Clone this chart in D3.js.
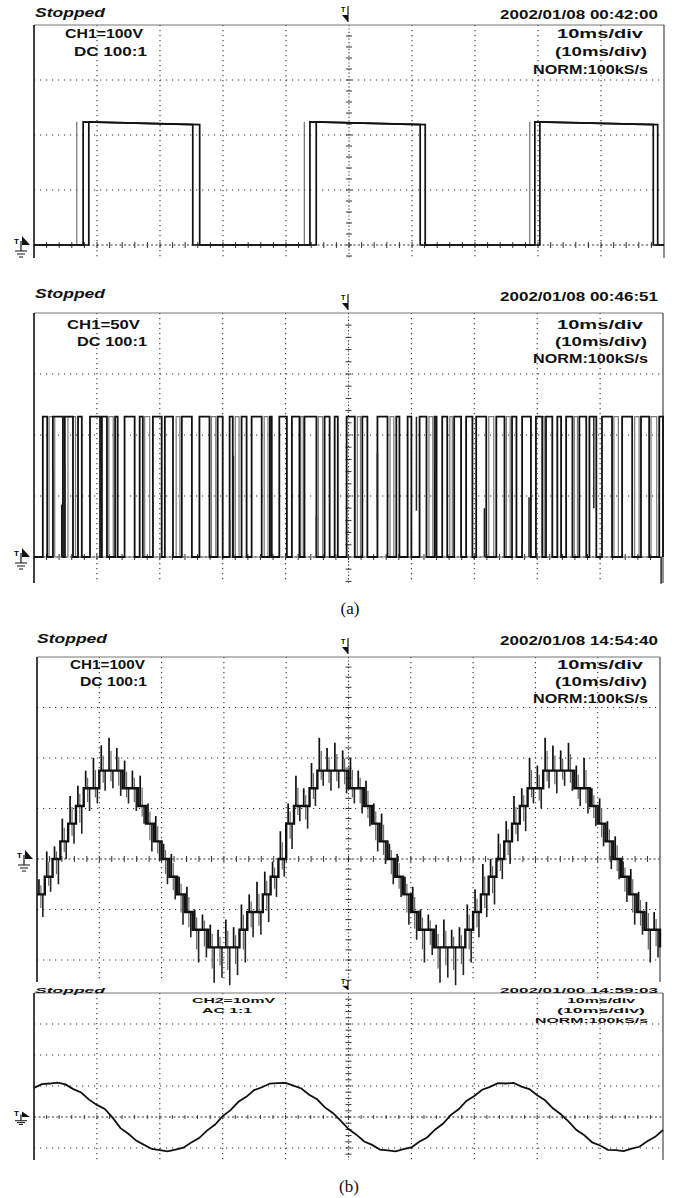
<!DOCTYPE html>
<html>
<head>
<meta charset="utf-8">
<script src="https://cdn.jsdelivr.net/npm/d3@7"></script>
<style>body{margin:0;background:#fff}</style>
</head>
<body>
<div id="chart"></div>
<script>
const W = 678, H = 1198;

// ---- panel 1 : CH1 100V/div, square wave (ms, V)
const p1PulsesA = [[7.8, 26.3], [43.8, 62.1], [79.5, 99.0]];
const p1PulsesB = [[8.7, 25.2], [44.8, 61.3], [80.3, 98.3]];
const p1Ghost = [6.8, 42.9, 78.7];
const p1HighStart = 224, p1HighEnd = 219;

// ---- panel 2 : CH1 50V/div, PWM pulses (ms)
const p2Pulses = [
  [1.4, 2.1], [3.0, 4.6], [4.9, 6.2], [7.0, 7.6], [8.9, 10.5], [10.8, 11.6], [12.9, 13.3],
  [14.4, 16.0], [16.8, 17.3], [18.9, 20.3], [20.8, 22.1], [23.5, 25.1], [26.3, 27.9],
  [29.2, 30.0], [31.1, 31.6], [33.0, 33.8], [34.6, 36.2], [37.5, 37.8], [39.0, 40.2],
  [41.0, 42.2], [43.0, 44.9], [46.2, 47.0], [47.8, 48.3], [49.7, 51.0], [52.2, 53.0],
  [54.6, 56.2], [57.6, 58.1], [59.4, 60.0], [61.3, 62.4], [63.7, 64.0], [64.9, 65.7],
  [66.8, 67.9], [68.7, 69.7], [70.3, 71.9], [73.5, 74.8], [76.0, 76.7], [77.6, 79.0],
  [79.8, 80.8], [81.4, 82.4], [83.2, 83.8], [84.6, 85.6], [86.7, 87.8], [88.3, 89.4],
  [90.3, 91.9], [93.5, 95.1], [96.5, 97.8], [99.4, 100]
];
const p2Ghost = [
  [2.4, 3.3], [5.4, 6.6], [11.9, 12.6], [17.6, 18.4], [22.6, 23.2], [28.2, 28.9], [32.0, 32.6],
  [36.6, 37.2], [42.4, 42.8], [45.2, 45.9], [51.4, 51.9], [56.6, 57.2], [62.8, 63.4], [66.1, 66.5],
  [72.3, 73.1], [75.1, 75.7], [80.9, 81.2], [85.9, 86.4], [92.2, 92.9], [95.5, 96.2], [98.1, 99.0]
];
// partial edges: [ms, V low, V high]
const p2Partial = [
  [3.0, 0, 71], [4.4, 0, 43], [4.9, 0, 75], [7.0, 0, 49], [18.9, 0, 46], [31.1, 0, 30],
  [31.7, 0, 83], [44.9, 0, 33], [54.6, 30, 85], [60.8, 38, 115], [63.7, 71, 115],
  [71.6, 0, 40], [77.6, 0, 11], [78.7, 0, 49], [89.0, 40, 115], [99.7, -22, 0]
];
const p2High = 115;

// ---- panel 3 : CH1 100V/div, stepped sine, one sample every 1.25 ms
const p3Level = [
  -70, -35, 0, 35, 70, 105, 140, 140, 175, 175,
  175, 140, 140, 105, 70, 35, 0, -35, -70, -105,
  -140, -140, -175, -175, -175, -175, -140, -105, -105, -70,
  -35, 0, 70, 105, 105, 140, 175, 175, 175, 175,
  140, 140, 105, 70, 35, 0, -35, -70, -105, -140,
  -140, -175, -175, -175, -175, -140, -105, -70, -35, 0,
  35, 70, 105, 140, 140, 175, 175, 175, 175, 140,
  140, 105, 70, 35, 0, -35, -70, -105, -140, -140,
  -175
];
const p3Up = [
  30, 50, 25, 45, 55, 40, 35, 60, 50, 65,
  45, 55, 35, 60, 40, 50, 30, 45, 35, 50,
  40, 30, 45, 35, 55, 40, 50, 35, 60, 45,
  30, 55, 40, 60, 35, 50, 65, 45, 55, 40,
  60, 35, 50, 40, 55, 30, 45, 35, 50, 40,
  30, 45, 55, 35, 40, 50, 45, 60, 35, 50,
  40, 55, 35, 60, 45, 65, 50, 40, 55, 45,
  60, 35, 50, 40, 45, 30, 50, 40, 55, 35,
  45
];
const p3Dn = [
  45, 30, 50, 35, 40, 55, 45, 30, 40, 35,
  50, 30, 45, 35, 55, 40, 50, 45, 60, 50,
  65, 55, 70, 60, 75, 55, 65, 50, 45, 55,
  40, 35, 50, 30, 45, 35, 30, 40, 35, 45,
  30, 50, 40, 55, 45, 50, 40, 60, 55, 65,
  50, 70, 60, 75, 55, 65, 50, 45, 55, 40,
  45, 35, 50, 30, 40, 35, 45, 30, 40, 35,
  50, 40, 45, 55, 40, 50, 60, 45, 65, 55,
  60
];

// ---- panel 4 : CH2 10mV/div, one sample every 1.25 ms
const p4Values = [
  9.4, 10.6, 10.8, 11.1, 10.5, 9.0, 7.9, 5.6, 3.9, 2.6,
  -0.2, -3.6, -5.4, -7.6, -9.0, -10.3, -10.7, -11.1, -10.5, -9.9,
  -8.2, -6.8, -4.4, -2.5, 0.3, 2.2, 4.9, 6.5, 8.7, 9.6,
  10.8, 10.9, 11.0, 10.1, 9.2, 7.2, 5.7, 3.1, 1.3, -1.2,
  -3.9, -5.7, -7.9, -9.0, -10.5, -10.8, -11.1, -10.4, -9.8, -8.0,
  -6.6, -4.1, -2.2, 0.6, 2.5, 5.2, 6.8, 8.8, 9.7, 10.9,
  10.8, 11.0, 9.8, 9.0, 7.0, 5.4, 2.8, 0.9, -1.5, -4.2,
  -5.9, -8.2, -9.2, -10.6, -10.7, -11.0, -10.2, -9.6, -7.8, -6.4,
  -4.2
];
const sampleStep = 1.25;

// ---- labels
const stoppedLabel = "Stopped";
const dates = ["2002/01/08  00:42:00", "2002/01/08  00:46:51", "2002/01/08  14:54:40", "2002/01/00  14:59:03"];
const chLabels = [["CH1=100V", "DC  100:1"], ["CH1=50V", "DC  100:1"], ["CH1=100V", "DC  100:1"], ["CH2=10mV", "AC  1:1"]];
const timeLabels = ["10ms/div", "(10ms/div)", "NORM:100kS/s"];

const svg = d3.select("#chart").append("svg")
  .attr("width", W).attr("height", H)
  .style("background", "#fff");

const panels = [
  {left: 34, right: 664, top: 25, bottom: 258, ground: 245, vdiv: 100, sy: 1,
   stop: [35, 17], date: 19, ch: [[65, 38, 78], [74, 56, 73]], tb: [38, 56, 74]},
  {left: 34, right: 663, top: 313, bottom: 583, ground: 557, vdiv: 50, sy: 1,
   stop: [35, 298], date: 301, ch: [[67, 329, 73], [77, 346, 70]], tb: [329, 346, 363]},
  {left: 37, right: 660, top: 657, bottom: 982, ground: 859, vdiv: 100, sy: 1,
   stop: [37, 643], date: 645, ch: [[70, 669, 75], [80, 686, 67]], tb: [669, 686, 703]},
  {left: 34, right: 663, top: 993, bottom: 1160, ground: 1117, vdiv: 10, sy: 0.62,
   stop: [35, 993], date: 993, ch: [[192, 1003, 83], [202, 1013, 50]], tb: [1003, 1013, 1023]}
];

panels.forEach(p => {
  p.x = d3.scaleLinear().domain([0, 100]).range([p.left, p.right]);
  p.y = d3.scaleLinear().domain([0, 4 * p.vdiv]).range([p.ground, p.top]);
});

function txt(str, x, y, width, opts = {}) {
  const g = svg.append("g").attr("transform", `translate(${x},${y}) scale(1,${opts.sy || 1})`);
  const t = g.append("text")
    .attr("x", 0).attr("y", 0)
    .attr("font-family", "'Liberation Sans', Arial, sans-serif")
    .attr("font-size", opts.size || 13)
    .attr("font-weight", opts.weight || "bold")
    .attr("font-style", opts.italic ? "italic" : "normal")
    .attr("fill", "#111")
    .text(str);
  if (width) t.attr("textLength", width).attr("lengthAdjust", "spacingAndGlyphs");
  return t;
}

function drawGrid(p) {
  const {x, y} = p;
  const g = svg.append("g");
  // vertical division lines
  d3.range(10, 100, 10).forEach(t => {
    if (t === 50) return;
    g.append("line")
      .attr("x1", x(t)).attr("x2", x(t)).attr("y1", p.top).attr("y2", p.bottom)
      .attr("stroke", "#333").attr("stroke-width", 1.1).attr("stroke-dasharray", "1.2,3.8");
  });
  // horizontal division lines
  d3.range(-6, 4).forEach(k => {
    if (k === 0) return;
    const yy = y(k * p.vdiv);
    if (yy <= p.top + 2 || yy >= p.bottom) return;
    g.append("line")
      .attr("x1", p.left).attr("x2", p.right).attr("y1", yy).attr("y2", yy)
      .attr("stroke", "#333").attr("stroke-width", 1.1).attr("stroke-dasharray", "1.2,4.8");
  });
  // centre lines with minor ticks
  g.append("line")
    .attr("x1", x(50)).attr("x2", x(50)).attr("y1", p.top).attr("y2", p.bottom)
    .attr("stroke", "#333").attr("stroke-width", 1.1).attr("stroke-dasharray", "1.2,2.2");
  g.append("line")
    .attr("x1", p.left).attr("x2", p.right).attr("y1", p.ground).attr("y2", p.ground)
    .attr("stroke", "#333").attr("stroke-width", 1.1).attr("stroke-dasharray", "2,2.5");
  const vt = d3.range(-40, 21).map(k => k * p.vdiv / 5)
    .filter(v => y(v) > p.top + 2 && y(v) < p.bottom);
  g.selectAll(null).data(vt).join("line")
    .attr("x1", x(50) - 3).attr("x2", x(50) + 3)
    .attr("y1", d => y(d)).attr("y2", d => y(d))
    .attr("stroke", "#333").attr("stroke-width", 1);
  g.selectAll(null).data(d3.range(2, 100, 2)).join("line")
    .attr("x1", d => x(d)).attr("x2", d => x(d))
    .attr("y1", p.ground - 3 * p.sy).attr("y2", p.ground + 3 * p.sy)
    .attr("stroke", "#333").attr("stroke-width", 1);
  // frame
  g.append("line").attr("x1", p.left).attr("x2", p.right).attr("y1", p.top).attr("y2", p.top)
    .attr("stroke", "#777").attr("stroke-width", 1.2);
  g.append("line").attr("x1", p.left).attr("x2", p.left).attr("y1", p.top).attr("y2", p.bottom)
    .attr("stroke", "#111").attr("stroke-width", 1.6);
  g.append("line").attr("x1", p.right).attr("x2", p.right).attr("y1", p.top).attr("y2", p.bottom)
    .attr("stroke", "#555").attr("stroke-width", 1.3);
}

function drawMarkers(p, i) {
  const g = svg.append("g");
  const s = p.sy;
  // trigger position marker on top
  const tx = 345, ty = p.top - 3;
  g.append("text").attr("x", tx - 4).attr("y", ty - 10 * s)
    .attr("font-family", "'Liberation Sans', Arial, sans-serif")
    .attr("font-size", 7).attr("font-weight", "bold").text("T");
  g.append("line").attr("x1", tx + 3).attr("x2", tx + 3).attr("y1", ty - 16 * s).attr("y2", ty)
    .attr("stroke", "#111").attr("stroke-width", 1.2);
  g.append("path")
    .attr("d", `M${tx - 3},${ty - 7 * s}L${tx + 3},${ty - 7 * s}L${tx + 3},${ty}Z`)
    .attr("fill", "#111");
  // ground / trigger level marker on the left
  const gy = p.ground, gx = p.left - 18;
  g.append("text").attr("x", gx - 2).attr("y", gy - 1)
    .attr("font-family", "'Liberation Sans', Arial, sans-serif")
    .attr("font-size", 8).attr("font-weight", "bold").text("T");
  g.append("path")
    .attr("d", `M${gx + 6},${gy - 9 * s}L${gx + 14},${gy}L${gx + 6},${gy}Z`)
    .attr("fill", "#111");
  g.append("line").attr("x1", gx + 5).attr("x2", gx + 5).attr("y1", gy - 4 * s).attr("y2", gy + 6 * s)
    .attr("stroke", "#111").attr("stroke-width", 1.2);
  [[0, 6], [3, 4], [6, 2]].forEach(([dy, hw]) => {
    g.append("line").attr("x1", gx + 5 - hw).attr("x2", gx + 5 + hw)
      .attr("y1", gy + (6 + dy) * s).attr("y2", gy + (6 + dy) * s)
      .attr("stroke", "#111").attr("stroke-width", 1);
  });
}

function drawLabels(p, i) {
  const sy = p.sy, size = 13;
  txt(stoppedLabel, p.stop[0], p.stop[1], 70, {italic: true, sy, size});
  txt(dates[i], 500, p.date, 158, {sy, size});
  chLabels[i].forEach((s, j) => txt(s, p.ch[j][0], p.ch[j][1], p.ch[j][2], {sy, size}));
  const tbx = i === 3 ? [[567, 68], [557, 88], [535, 113]] : [[557, 86], [555, 92], [533, 115]];
  timeLabels.forEach((s, j) => txt(s, tbx[j][0], p.tb[j], tbx[j][1], {sy, size}));
}

function pulsePath(pulses, lo, hiA, hiB) {
  const pts = [[0, lo]];
  pulses.forEach(([s, e]) => pts.push([s, lo], [s, hiA], [e, hiB], [e, lo]));
  pts.push([100, lo]);
  return pts;
}

panels.forEach((p, i) => {
  drawGrid(p);
  drawMarkers(p, i);
  drawLabels(p, i);
});

// ---- panel 1 traces
{
  const p = panels[0];
  const line = d3.line().x(d => p.x(d[0])).y(d => p.y(d[1]));
  svg.append("g").selectAll(null).data(p1Ghost).join("line")
    .attr("x1", d => p.x(d)).attr("x2", d => p.x(d))
    .attr("y1", p.y(0)).attr("y2", p.y(p1HighStart))
    .attr("stroke", "#555").attr("stroke-width", 1);
  [p1PulsesB, p1PulsesA].forEach(pl => {
    svg.append("path").attr("d", line(pulsePath(pl, 0, p1HighStart, p1HighEnd)))
      .attr("fill", "none").attr("stroke", "#111").attr("stroke-width", 1.7);
  });
}

// ---- panel 2 traces
{
  const p = panels[1];
  const line = d3.line().x(d => p.x(d[0])).y(d => p.y(d[1]));
  svg.append("path").attr("d", line(pulsePath(p2Ghost, 0, p2High, p2High)))
    .attr("fill", "none").attr("stroke", "#777").attr("stroke-width", 1.2);
  svg.append("path").attr("d", line(pulsePath(p2Pulses, 0, p2High, p2High)))
    .attr("fill", "none").attr("stroke", "#111").attr("stroke-width", 1.8);
  svg.append("g").selectAll(null).data(p2Partial).join("line")
    .attr("x1", d => p.x(d[0])).attr("x2", d => p.x(d[0]))
    .attr("y1", d => p.y(d[1])).attr("y2", d => p.y(d[2]))
    .attr("stroke", "#222").attr("stroke-width", 1.5);
}

// ---- panel 3 trace
{
  const p = panels[2];
  const data = p3Level.map((v, i) => ({t: i * sampleStep, v, up: p3Up[i], dn: p3Dn[i]}));
  const dx = p.x(sampleStep) - p.x(0);
  const g = svg.append("g");
  g.selectAll(".span").data(data.slice(0, -1)).join("line")
    .attr("x1", d => p.x(d.t) + dx * 0.5).attr("x2", d => p.x(d.t) + dx * 0.5)
    .attr("y1", d => p.y(d.v - d.dn * 0.6)).attr("y2", d => p.y(d.v + d.up * 0.6))
    .attr("stroke", "#666").attr("stroke-width", 1.2);
  g.selectAll(".up").data(data.slice(0, -1)).join("line")
    .attr("x1", d => p.x(d.t) + dx * 0.25).attr("x2", d => p.x(d.t) + dx * 0.25)
    .attr("y1", d => p.y(d.v)).attr("y2", d => p.y(d.v + d.up))
    .attr("stroke", "#111").attr("stroke-width", 1.7);
  g.selectAll(".dn").data(data.slice(0, -1)).join("line")
    .attr("x1", d => p.x(d.t) + dx * 0.75).attr("x2", d => p.x(d.t) + dx * 0.75)
    .attr("y1", d => p.y(d.v)).attr("y2", d => p.y(d.v - d.dn))
    .attr("stroke", "#222").attr("stroke-width", 1.6);
  const step = d3.line().x(d => p.x(d.t)).y(d => p.y(d.v)).curve(d3.curveStepAfter);
  g.append("path").attr("d", step(data))
    .attr("fill", "none").attr("stroke", "#111").attr("stroke-width", 2.4);
}

// ---- panel 4 trace
{
  const p = panels[3];
  const line = d3.line().x((d, i) => p.x(i * sampleStep)).y(d => p.y(d));
  svg.append("path").attr("d", line(p4Values))
    .attr("fill", "none").attr("stroke", "#111").attr("stroke-width", 1.8);
}

// ---- captions
[["(a)", 350, 614], ["(b)", 349, 1192]].forEach(([s, x, y]) => {
  svg.append("text").attr("x", x).attr("y", y).attr("text-anchor", "middle")
    .attr("font-family", "'Liberation Serif', 'Times New Roman', serif")
    .attr("font-size", 17).attr("fill", "#111").text(s);
});
</script>
</body>
</html>
